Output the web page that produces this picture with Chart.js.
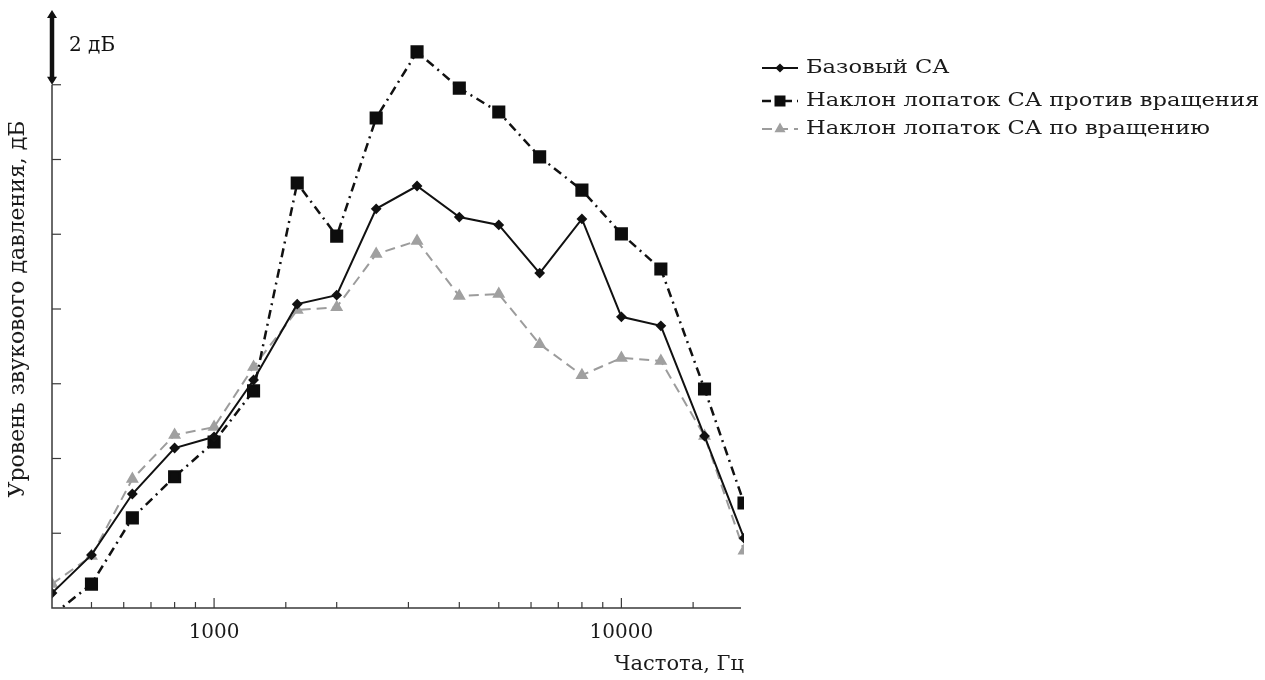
<!DOCTYPE html>
<html>
<head>
<meta charset="utf-8">
<script src="https://cdn.jsdelivr.net/npm/chart.js@4.4.0/dist/chart.umd.min.js"></script>
<style>
  html, body { margin: 0; padding: 0; background: #fff; }
  #wrap { width: 1265px; height: 680px; position: relative; }
</style>
</head>
<body>
<div id="wrap"><canvas id="chartCanvas"></canvas></div>
<script>
// Данные (1/3-октавные полосы, уровни в дБ относительно низа оси)
const frequencies = [400, 500, 630, 800, 1000, 1250, 1600, 2000, 2500, 3150, 4000, 5000, 6300, 8000, 10000, 12500, 16000, 20000];
const baseLevels = [0.40, 1.42, 3.05, 4.28, 4.58, 6.10, 8.13, 8.37, 10.68, 11.29, 10.46, 10.25, 8.96, 10.41, 7.79, 7.55, 4.60, 1.87];
const againstLevels = [-0.2, 0.64, 2.41, 3.51, 4.44, 5.81, 11.37, 9.95, 13.11, 14.88, 13.91, 13.27, 12.07, 11.18, 10.01, 9.07, 5.86, 2.81];
const alongLevels = [0.64, 1.39, 3.45, 4.63, 4.84, 6.45, 7.97, 8.05, 9.47, 9.82, 8.35, 8.40, 7.06, 6.23, 6.69, 6.61, 4.60, 1.53];
const seriesNames = ['Базовый СА', 'Наклон лопаток СА против вращения', 'Наклон лопаток СА по вращению'];
const xTickLabels = [1000, 10000];
const yMin = 0, yMax = 16, yStep = 2, yAxisTop = 14;
const scaleLabel = '2 дБ';

const FONT = 'DejaVu Serif';

function toPoints(levels) {
  return frequencies.map((f, i) => ({ x: f, y: levels[i] }));
}

// Оси, засечки внутрь и стрелка масштаба
const axesPlugin = {
  id: 'axesPlugin',
  afterDatasetsDraw(chart) {
    const { ctx, scales: { x, y } } = chart;
    const y0 = y.getPixelForValue(yMin);
    const yTop = y.getPixelForValue(yAxisTop);
    const yArr = y.getPixelForValue(yMax);
    const xL = x.getPixelForValue(x.min);
    const xR = x.getPixelForValue(x.max);

    ctx.save();
    ctx.strokeStyle = '#3a3a3a';
    ctx.lineWidth = 1.5;
    ctx.beginPath();
    ctx.moveTo(xL, yTop);
    ctx.lineTo(xL, y0);
    ctx.lineTo(xR - 3, y0);
    ctx.stroke();

    ctx.lineWidth = 1.2;
    y.ticks.forEach(t => {
      if (t.value <= yMin || t.value > yAxisTop) return;
      const py = y.getPixelForValue(t.value);
      ctx.beginPath();
      ctx.moveTo(xL, py);
      ctx.lineTo(xL + 9, py);
      ctx.stroke();
    });

    x.ticks.forEach(t => {
      if (t.value <= x.min || t.value >= x.max) return;
      const px = x.getPixelForValue(t.value);
      const len = xTickLabels.includes(t.value) ? 10 : 6;
      ctx.beginPath();
      ctx.moveTo(px, y0);
      ctx.lineTo(px, y0 - len);
      ctx.stroke();
    });

    // стрелка "2 дБ"
    ctx.strokeStyle = '#111';
    ctx.fillStyle = '#111';
    ctx.lineWidth = 4.5;
    ctx.beginPath();
    ctx.moveTo(xL, yArr + 4);
    ctx.lineTo(xL, yTop - 4);
    ctx.stroke();
    [[yArr, 1], [yTop, -1]].forEach(([py, dir]) => {
      ctx.beginPath();
      ctx.moveTo(xL, py);
      ctx.lineTo(xL - 5, py + dir * 8);
      ctx.lineTo(xL + 5, py + dir * 8);
      ctx.closePath();
      ctx.fill();
    });
    ctx.font = '20px "' + FONT + '"';
    ctx.textBaseline = 'middle';
    ctx.textAlign = 'left';
    ctx.fillText(scaleLabel, xL + 17, (yArr + yTop) / 2 - 2);
    ctx.restore();
  }
};

// Легенда справа от графика
const sideLegend = {
  id: 'sideLegend',
  afterDraw(chart) {
    const ctx = chart.ctx;
    const rows = [68, 101, 129];
    const x0 = 762, x1 = 798;
    chart.data.datasets.forEach((ds, i) => {
      const yy = rows[i];
      ctx.save();
      ctx.strokeStyle = ds.borderColor;
      ctx.lineWidth = ds.borderWidth;
      ctx.setLineDash(ds.borderDash || []);
      ctx.beginPath();
      ctx.moveTo(x0, yy);
      ctx.lineTo(x1, yy);
      ctx.stroke();
      ctx.setLineDash([]);
      ctx.fillStyle = ds.pointBackgroundColor;
      ctx.strokeStyle = ds.pointBorderColor;
      Chart.helpers.drawPoint(ctx, {
        pointStyle: ds.pointStyle,
        radius: ds.pointRadius * 0.8,
        borderWidth: 1,
        rotation: 0
      }, (x0 + x1) / 2, yy);

      ctx.fillStyle = '#1a1a1a';
      ctx.font = '19px "' + FONT + '"';
      ctx.textBaseline = 'middle';
      ctx.translate(x1 + 8, yy);
      ctx.scale(1.19, 1);
      ctx.fillText(ds.label, 0, 0);
      ctx.restore();
    });
  }
};

new Chart(document.getElementById('chartCanvas'), {
  type: 'line',
  data: {
    datasets: [
      {
        label: seriesNames[0],
        data: toPoints(baseLevels),
        borderColor: '#111',
        borderWidth: 2,
        pointStyle: 'rectRot',
        pointRadius: 4,
        pointBackgroundColor: '#111',
        pointBorderColor: '#111',
        tension: 0
      },
      {
        label: seriesNames[1],
        data: toPoints(againstLevels),
        borderColor: '#111',
        borderWidth: 2.5,
        borderDash: [9, 5, 2, 5],
        pointStyle: 'rect',
        pointRadius: 7.5,
        pointBackgroundColor: '#0d0d0d',
        pointBorderColor: '#0d0d0d',
        tension: 0
      },
      {
        label: seriesNames[2],
        data: toPoints(alongLevels),
        borderColor: '#9c9c9c',
        borderWidth: 2,
        borderDash: [10, 6],
        pointStyle: 'triangle',
        pointRadius: 5.5,
        pointBackgroundColor: '#a0a0a0',
        pointBorderColor: '#a0a0a0',
        tension: 0
      }
    ]
  },
  options: {
    responsive: true,
    maintainAspectRatio: false,
    animation: false,
    layout: { padding: { top: 10, right: 521, left: 0, bottom: 0 } },
    plugins: {
      legend: { display: false },
      tooltip: { enabled: false }
    },
    scales: {
      x: {
        type: 'logarithmic',
        min: 400,
        max: 20000,
        grid: { display: false, drawTicks: false },
        border: { display: false },
        ticks: {
          autoSkip: false,
          maxRotation: 0,
          padding: 13,
          color: '#1a1a1a',
          font: { family: FONT, size: 20 },
          callback: v => xTickLabels.includes(v) ? String(v) : ''
        },
        title: {
          display: true,
          text: 'Частота, Гц',
          align: 'end',
          color: '#1a1a1a',
          font: { family: FONT, size: 21 },
          padding: { top: 4, bottom: 3 }
        },
        afterFit: s => { s.height = 72; }
      },
      y: {
        min: yMin,
        max: yMax,
        grid: { display: false, drawTicks: false },
        border: { display: false },
        ticks: { display: false, stepSize: yStep },
        title: {
          display: true,
          text: 'Уровень звукового давления, дБ',
          color: '#1a1a1a',
          font: { family: FONT, size: 22 },
          padding: { top: 5, bottom: 4 }
        },
        afterFit: s => { s.width = 52; }
      }
    }
  },
  plugins: [axesPlugin, sideLegend]
});
</script>
</body>
</html>
